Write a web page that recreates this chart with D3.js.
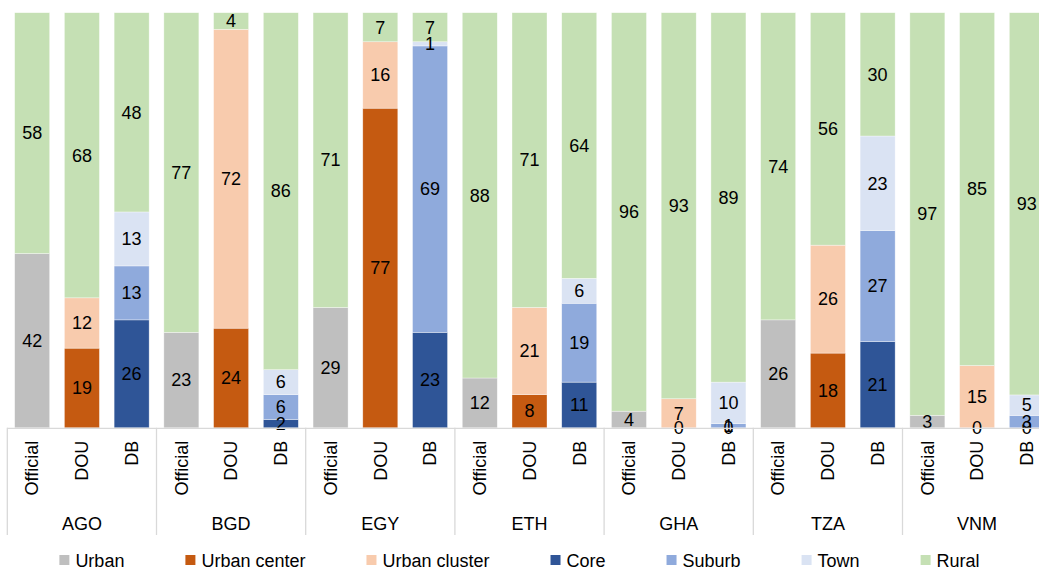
<!DOCTYPE html>
<html>
<head>
<meta charset="utf-8">
<script src="https://cdn.jsdelivr.net/npm/d3@7"></script>
<style>
  html, body { margin: 0; padding: 0; background: #fff; }
  svg { display: block; overflow: hidden; }
  text { font-family: "Liberation Sans", Arial, sans-serif; fill: #000; }
</style>
</head>
<body>
<svg id="chart" width="1039" height="569"></svg>
<script>
// Countries and the three classification methods shown for each one
const countries = ["AGO", "BGD", "EGY", "ETH", "GHA", "TZA", "VNM"];
const methods = ["Official", "DOU", "DB"];

// Series, bottom to top within each bar
const seriesNames = ["Urban", "Urban center", "Urban cluster", "Core", "Suburb", "Town", "Rural"];
const seriesColors = ["#BFBFBF", "#C55A11", "#F8CBAD", "#2F5597", "#8FAADC", "#DAE3F3", "#C5E0B4"];

// Shares (%) in country/method order: AGO Official, AGO DOU, AGO DB, BGD Official, ...
const urban        = [42, null, null, 23, null, null, 29, null, null, 12, null, null, 4, null, null, 26, null, null, 3, null, null];
const urbanCenter  = [null, 19, null, null, 24, null, null, 77, null, null, 8, null, null, 0, null, null, 18, null, null, 0, null];
const urbanCluster = [null, 12, null, null, 72, null, null, 16, null, null, 21, null, null, 7, null, null, 26, null, null, 15, null];
const core         = [null, null, 26, null, null, 2, null, null, 23, null, null, 11, null, null, 0, null, null, 21, null, null, 0];
const suburb       = [null, null, 13, null, null, 6, null, null, 69, null, null, 19, null, null, 1, null, null, 27, null, null, 3];
const town         = [null, null, 13, null, null, 6, null, null, 1, null, null, 6, null, null, 10, null, null, 23, null, null, 5];
const rural        = [58, 68, 48, 77, 4, 86, 71, 7, 7, 88, 71, 64, 96, 93, 89, 74, 56, 30, 97, 85, 93];

const seriesValues = [urban, urbanCenter, urbanCluster, core, suburb, town, rural];

// One row per bar
const rows = [];
countries.forEach((c, ci) => {
  methods.forEach((m, mi) => {
    const i = ci * methods.length + mi;
    const row = { country: c, method: m };
    seriesNames.forEach((s, si) => { row[s] = seriesValues[si][i]; });
    rows.push(row);
  });
});

const svg = d3.select("#chart");
const W = 1039;

// Layout
const plotLeft = 7.3;
const groupWidth = 149.2;
const plotTop = 12.7;
const plotBottom = 427.8;
const axisBottom = 535;

const xGroup = d3.scaleBand()
  .domain(countries)
  .range([plotLeft, plotLeft + groupWidth * countries.length])
  .padding(0);

const xInner = d3.scaleBand()
  .domain(methods)
  .range([0, xGroup.bandwidth()])
  .paddingInner(0.296)
  .paddingOuter(0.148);

const y = d3.scaleLinear().domain([0, 1]).range([plotBottom, plotTop]);

// 100% stacked layout
const stack = d3.stack()
  .keys(seriesNames)
  .value((d, k) => d[k] == null ? 0 : d[k])
  .offset(d3.stackOffsetExpand);
const stacked = stack(rows);

const barX = d => xGroup(d.data.country) + xInner(d.data.method);

const layers = svg.append("g").attr("class", "bars")
  .selectAll("g")
  .data(stacked)
  .join("g")
  .attr("fill", (d, i) => seriesColors[i]);

layers.selectAll("rect")
  .data(d => d.filter(p => p.data[d.key] != null && p.data[d.key] > 0))
  .join("rect")
  .attr("x", barX)
  .attr("width", xInner.bandwidth())
  .attr("y", d => y(d[1]))
  .attr("height", d => y(d[0]) - y(d[1]))
  .attr("stroke", "#ffffff")
  .attr("stroke-opacity", 0.6)
  .attr("stroke-width", 0.6);

// Value labels, centred in each segment
const labels = svg.append("g").attr("class", "labels");
stacked.forEach(layer => {
  labels.selectAll(null)
    .data(layer.filter(p => p.data[layer.key] != null))
    .join("text")
    .attr("x", d => barX(d) + xInner.bandwidth() / 2)
    .attr("y", d => (y(d[0]) + y(d[1])) / 2)
    .attr("dy", "0.35em")
    .attr("text-anchor", "middle")
    .style("font-size", "18px")
    .text(d => d.data[layer.key]);
});

// Category axis: baseline, group separators, method and country labels
const axis = svg.append("g").attr("class", "x-axis");
axis.append("line")
  .attr("x1", xGroup.range()[0]).attr("x2", xGroup.range()[1])
  .attr("y1", plotBottom + 0.5).attr("y2", plotBottom + 0.5)
  .attr("stroke", "#D9D9D9").attr("stroke-width", 1.3);

const bounds = countries.map(c => xGroup(c)).concat([xGroup.range()[1]]);
axis.selectAll("line.sep")
  .data(bounds)
  .join("line")
  .attr("class", "sep")
  .attr("x1", d => d).attr("x2", d => d)
  .attr("y1", plotBottom).attr("y2", axisBottom)
  .attr("stroke", "#D9D9D9").attr("stroke-width", 1.3);

countries.forEach(c => {
  const g = axis.append("g")
    .attr("transform", `translate(${xGroup(c)},${plotBottom})`)
    .call(d3.axisBottom(xInner).tickSize(0).tickPadding(0));
  g.select(".domain").remove();
  g.selectAll(".tick text")
    .attr("transform", "rotate(-90)")
    .attr("x", -13)
    .attr("y", 0)
    .attr("dy", "0.35em")
    .attr("text-anchor", "end")
    .attr("fill", "#000")
    .style("font-size", "18px")
    .style("font-family", "'Liberation Sans', Arial, sans-serif");
});

axis.selectAll("text.country")
  .data(countries)
  .join("text")
  .attr("class", "country")
  .attr("x", d => xGroup(d) + xGroup.bandwidth() / 2)
  .attr("y", 530)
  .attr("text-anchor", "middle")
  .style("font-size", "18px")
  .text(d => d);

// Legend, centred horizontally
const legend = svg.append("g").attr("class", "legend");
const items = legend.selectAll("g")
  .data(seriesNames)
  .join("g");
items.append("rect")
  .attr("width", 10).attr("height", 10)
  .attr("y", 555)
  .attr("fill", (d, i) => seriesColors[i]);
items.append("text")
  .attr("x", 16)
  .attr("y", 566.5)
  .style("font-size", "18px")
  .text(d => d);

const gap = 61;
let cursor = 0;
const offsets = [];
items.each(function () {
  offsets.push(cursor);
  const tw = d3.select(this).select("text").node().getComputedTextLength();
  cursor += 16 + tw + gap;
});
const totalW = cursor - gap;
const startX = W / 2 - totalW / 2;
items.attr("transform", (d, i) => `translate(${startX + offsets[i]},0)`);
</script>
</body>
</html>
